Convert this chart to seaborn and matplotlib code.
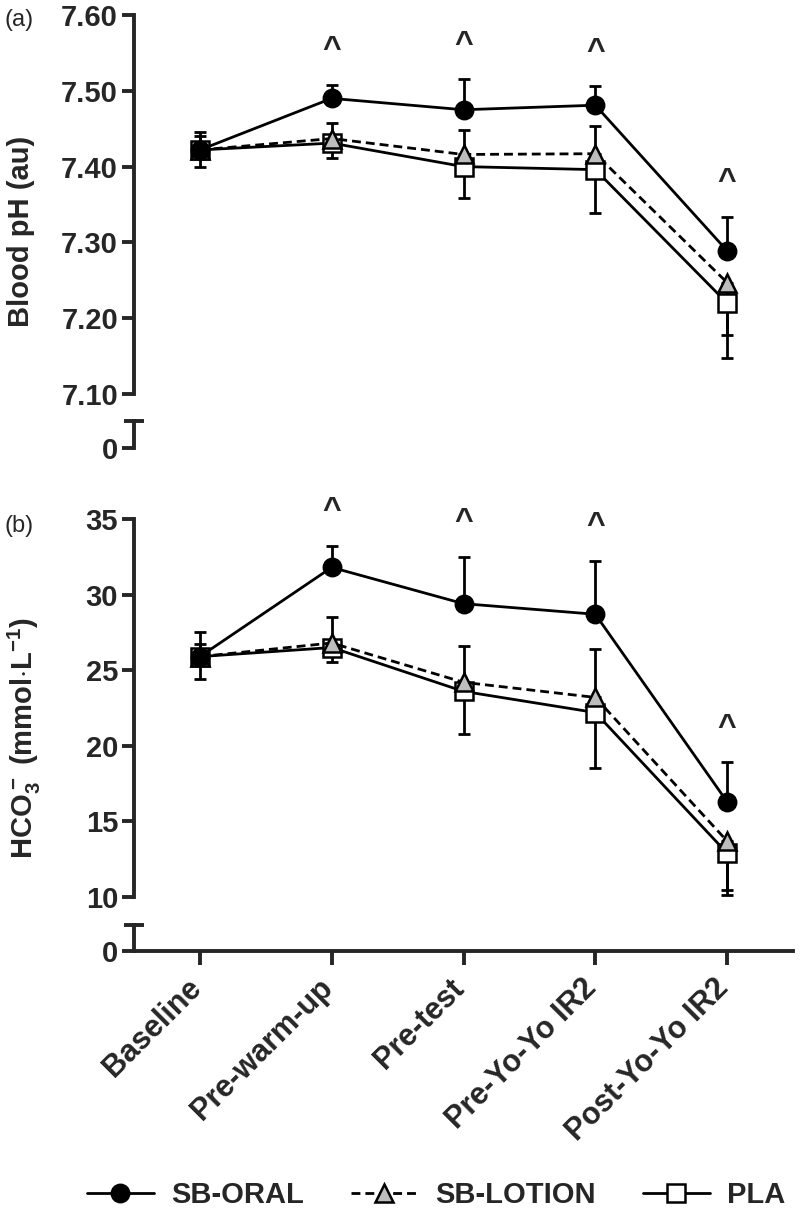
import numpy as np
import pandas as pd
import matplotlib
matplotlib.use('Agg')
import matplotlib.pyplot as plt
import matplotlib.transforms as mtransforms
import seaborn as sns

# time points and groups
categories = ['Baseline', 'Pre-warm-up', 'Pre-test', 'Pre-Yo-Yo IR2', 'Post-Yo-Yo IR2']
groups = ['SB-ORAL', 'SB-LOTION', 'PLA']

# (a) blood pH: means and the drawn side of each SD bar
ph_oral = [7.422, 7.490, 7.475, 7.481, 7.289]
ph_oral_up = [0.024, 0.018, 0.040, 0.025, 0.045]
ph_lotion = [7.422, 7.437, 7.416, 7.417, 7.247]
ph_lotion_up = [0.018, 0.021, 0.032, 0.037, 0.0]
ph_lotion_down = [0.0, 0.0, 0.0, 0.0, 0.069]
ph_pla = [7.422, 7.431, 7.400, 7.396, 7.220]
ph_pla_down = [0.023, 0.019, 0.042, 0.057, 0.073]

# (b) bicarbonate (mmol/L)
hco3_oral = [25.9, 31.8, 29.4, 28.7, 16.3]
hco3_oral_up = [1.6, 1.4, 3.1, 3.55, 2.6]
hco3_lotion = [25.9, 26.8, 24.2, 23.2, 13.7]
hco3_lotion_up = [0.85, 1.75, 2.4, 3.2, 0.0]
hco3_lotion_down = [0.0, 0.0, 0.0, 0.0, 3.25]
hco3_pla = [25.9, 26.5, 23.6, 22.2, 12.9]
hco3_pla_down = [1.5, 0.95, 2.8, 3.7, 2.8]

# ^ = SB-ORAL different from the other conditions
significant = [False, True, True, True, True]

ph_ticks = [7.10, 7.20, 7.30, 7.40, 7.50, 7.60]
hco3_ticks = [10, 15, 20, 25, 30, 35]

sns.set_style('ticks')
plt.rcParams['font.family'] = ['Liberation Sans', 'DejaVu Sans']
plt.rcParams['font.weight'] = 'bold'
plt.rcParams['mathtext.fontset'] = 'custom'
plt.rcParams['mathtext.rm'] = 'Liberation Sans:bold'
plt.rcParams['mathtext.bf'] = 'Liberation Sans:bold'
plt.rcParams['mathtext.default'] = 'bf'

STYLE = {
    'SB-ORAL': dict(marker='o', markerfacecolor='black', markersize=12.5, linestyle='-', zorder=6),
    'SB-LOTION': dict(marker='^', markerfacecolor='#bdbdbd', markersize=13, linestyle=(0, (3.2, 1.8)), zorder=5),
    'PLA': dict(marker='s', markerfacecolor='white', markersize=13, linestyle='-', zorder=4),
}
LW = 2.0
SPINE = 2.8
FS = 21

W, H = 800, 1229
fig = plt.figure(figsize=(8, 12.29), dpi=100)


def px_axes(left, top, right, bottom):
    return fig.add_axes([left / W, 1 - bottom / H, (right - left) / W, (bottom - top) / H])


def draw_panel(ax, ax_low, means, ups, downs, ticks, fmt):
    df = pd.DataFrame({
        'time': categories * 3,
        'group': np.repeat(groups, len(categories)),
        'value': means[0] + means[1] + means[2],
    })
    x = np.arange(len(categories))
    for i, g in enumerate(groups):
        sub = df[df['group'] == g]
        ax.errorbar(x, means[i], yerr=[downs[i], ups[i]], fmt='none', ecolor='black',
                    elinewidth=LW, capsize=4.5, capthick=LW, zorder=2, clip_on=False)
        sns.lineplot(data=sub, x=x, y='value', ax=ax, color='black', sort=False,
                     linewidth=LW, markeredgecolor='black', markeredgewidth=1.8,
                     clip_on=False, label=g, **STYLE[g])
    for i, sig in enumerate(significant):
        if sig:
            ax.annotate('^', (x[i], means[0][i] + ups[0][i]), xytext=(0, 25),
                        textcoords='offset points', ha='center', va='center',
                        fontsize=23, fontweight='bold')
    ax.set_xlim(-0.5, len(categories) - 0.5)
    ax.set_ylim(ticks[0], ticks[-1])
    ax.set_yticks(ticks)
    ax.set_yticklabels([fmt.format(t) for t in ticks])
    ax.set_yticks([ticks[0]], minor=True)
    ax.set_xticks([])
    ax.set_xlabel('')
    ax.set_ylabel('')
    ax.legend_.remove()
    sns.despine(ax=ax, bottom=True)
    ax.spines['left'].set_linewidth(SPINE)
    ax.tick_params(axis='y', which='major', length=8.5, width=SPINE, labelsize=FS, pad=3)
    ax.tick_params(axis='y', which='minor', direction='inout', length=15, width=SPINE)

    ax_low.set_xlim(-0.5, len(categories) - 0.5)
    ax_low.set_ylim(0, 1)
    ax_low.set_yticks([0])
    ax_low.set_yticklabels(['0'])
    ax_low.set_yticks([1], minor=True)
    ax_low.spines['left'].set_linewidth(SPINE)
    ax_low.tick_params(axis='y', which='major', length=8.5, width=SPINE, labelsize=FS, pad=3)
    ax_low.tick_params(axis='y', which='minor', direction='inout', length=15, width=SPINE)
    ax_low.patch.set_alpha(0)


ax_a = px_axes(134, 15, 793, 394)
ax_a0 = px_axes(134, 421, 793, 448)
ax_b = px_axes(134, 519, 793, 897)
ax_b0 = px_axes(134, 925, 793, 951)

draw_panel(ax_a, ax_a0, [ph_oral, ph_lotion, ph_pla],
           [ph_oral_up, ph_lotion_up, [0] * 5],
           [[0] * 5, ph_lotion_down, ph_pla_down], ph_ticks, '{:.2f}')
draw_panel(ax_b, ax_b0, [hco3_oral, hco3_lotion, hco3_pla],
           [hco3_oral_up, hco3_lotion_up, [0] * 5],
           [[0] * 5, hco3_lotion_down, hco3_pla_down], hco3_ticks, '{:d}')

sns.despine(ax=ax_a0, bottom=True)
ax_a0.set_xticks([])
sns.despine(ax=ax_b0)
ax_b0.spines['bottom'].set_linewidth(SPINE)
ax_b0.set_xticks(range(len(categories)))
ax_b0.set_xticklabels(categories, rotation=45, ha='right', va='top',
                      rotation_mode='anchor', fontsize=22, fontweight='bold')
ax_b0.tick_params(axis='x', length=10, width=SPINE, pad=6)
# nudge the slanted labels left so they end just under the ticks
shift = mtransforms.ScaledTranslation(-0.14, 0, fig.dpi_scale_trans)
for lab in ax_b0.get_xticklabels():
    lab.set_transform(lab.get_transform() + shift)

# panel letters and y labels
fig.text(4 / W, 1 - 20 / H, '(a)', fontsize=17, fontweight='normal', va='center')
fig.text(4 / W, 1 - 526 / H, '(b)', fontsize=17, fontweight='normal', va='center')
fig.text(21 / W, 1 - 231 / H, 'Blood pH (au)', rotation=90, ha='center', va='center',
         fontsize=FS, fontweight='bold')
fig.text(24 / W, 1 - 738 / H, r'HCO$_3^-$ (mmol$\cdot$L$^{-1}$)', rotation=90,
         ha='center', va='center', fontsize=FS, fontweight='bold')

handles, labels = ax_a.get_legend_handles_labels()
fig.legend(handles, labels, loc='center', bbox_to_anchor=(436 / W, 1 - 1195 / H), ncol=3,
           frameon=False, handlelength=2.3, handletextpad=0.6,
           columnspacing=1.6, prop={'weight': 'bold', 'size': FS})

fig.savefig('out.png', dpi=100)
